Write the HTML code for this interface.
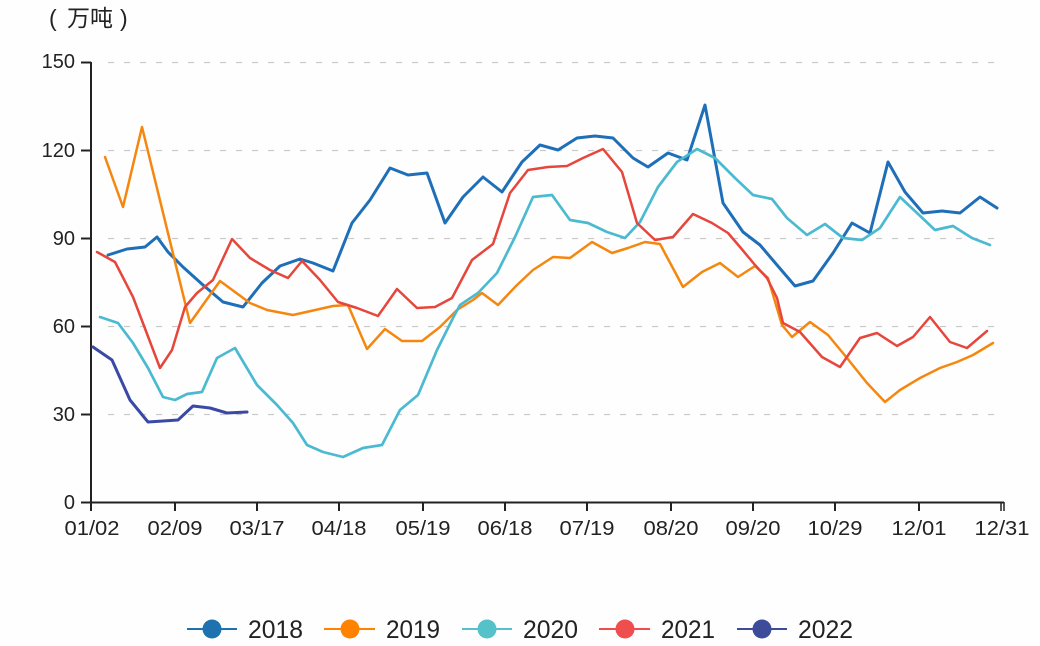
<!DOCTYPE html>
<html><head><meta charset="utf-8"><style>
html,body{margin:0;padding:0;background:#fefefe;}
svg{display:block;}
text{font-family:"Liberation Sans","Noto Sans CJK SC",sans-serif;fill:#222;}
</style></head><body>
<svg width="1040" height="646" viewBox="0 0 1040 646" xmlns="http://www.w3.org/2000/svg">
<rect width="1040" height="646" fill="#fefefe"/>
<text x="49" y="26" font-size="23">(</text>
<text x="67" y="26" font-size="23" font-family="'Noto Sans CJK SC',sans-serif">万吨</text>
<text x="120" y="26" font-size="23">)</text>
<g stroke="#c9c9c9" stroke-width="1.3" stroke-dasharray="6 10">
<line x1="108" y1="62.5" x2="998" y2="62.5"/>
<line x1="108" y1="150.5" x2="998" y2="150.5"/>
<line x1="108" y1="238.5" x2="998" y2="238.5"/>
<line x1="108" y1="326.5" x2="998" y2="326.5"/>
<line x1="108" y1="414.5" x2="998" y2="414.5"/>
</g>
<g stroke="#222" stroke-width="2" fill="none">
<line x1="91" y1="62" x2="91" y2="503"/>
<line x1="90" y1="502.5" x2="1004" y2="502.5"/>
<line x1="81" y1="62.5" x2="91" y2="62.5"/>
<line x1="81" y1="150.5" x2="91" y2="150.5"/>
<line x1="81" y1="238.5" x2="91" y2="238.5"/>
<line x1="81" y1="326.5" x2="91" y2="326.5"/>
<line x1="81" y1="414.5" x2="91" y2="414.5"/>
<line x1="81" y1="502.5" x2="91" y2="502.5"/>
<line x1="91" y1="502" x2="91" y2="511"/>
<line x1="175" y1="502" x2="175" y2="511"/>
<line x1="257" y1="502" x2="257" y2="511"/>
<line x1="339" y1="502" x2="339" y2="511"/>
<line x1="423" y1="502" x2="423" y2="511"/>
<line x1="505" y1="502" x2="505" y2="511"/>
<line x1="587" y1="502" x2="587" y2="511"/>
<line x1="671" y1="502" x2="671" y2="511"/>
<line x1="753" y1="502" x2="753" y2="511"/>
<line x1="835" y1="502" x2="835" y2="511"/>
<line x1="919" y1="502" x2="919" y2="511"/>
<line x1="1001" y1="502" x2="1001" y2="511" stroke-width="1.5"/>
<line x1="1004" y1="502" x2="1004" y2="511" stroke-width="1.5"/>
</g>
<g font-size="20" text-anchor="end">
<text x="75" y="68">150</text>
<text x="75" y="157">120</text>
<text x="75" y="245">90</text>
<text x="75" y="333">60</text>
<text x="75" y="421">30</text>
<text x="75" y="509">0</text>
</g>
<g font-size="20" text-anchor="middle">
<text x="92" y="535" textLength="55" lengthAdjust="spacingAndGlyphs">01/02</text>
<text x="175" y="535" textLength="55" lengthAdjust="spacingAndGlyphs">02/09</text>
<text x="257" y="535" textLength="55" lengthAdjust="spacingAndGlyphs">03/17</text>
<text x="339" y="535" textLength="55" lengthAdjust="spacingAndGlyphs">04/18</text>
<text x="423" y="535" textLength="55" lengthAdjust="spacingAndGlyphs">05/19</text>
<text x="505" y="535" textLength="55" lengthAdjust="spacingAndGlyphs">06/18</text>
<text x="587" y="535" textLength="55" lengthAdjust="spacingAndGlyphs">07/19</text>
<text x="671" y="535" textLength="55" lengthAdjust="spacingAndGlyphs">08/20</text>
<text x="753" y="535" textLength="55" lengthAdjust="spacingAndGlyphs">09/20</text>
<text x="835" y="535" textLength="55" lengthAdjust="spacingAndGlyphs">10/29</text>
<text x="919" y="535" textLength="55" lengthAdjust="spacingAndGlyphs">12/01</text>
<text x="1002" y="535" textLength="55" lengthAdjust="spacingAndGlyphs">12/31</text>
</g>
<g fill="none" stroke-linejoin="round" stroke-linecap="round">
<polyline stroke="#1e6fb8" stroke-width="3" points="108,255 127,249 145,247 157,237 168,252 183,267 203,285 223,302 243,307 262,283 280,266 300,259 313,263 333,271 352,223 370,200 390,168 408,175 427,173 445,223 463,197 483,177 502,192 522,162 540,145 558,150 577,138 595,136 613,138 633,158 648,167 668,153 687,160 705,105 723,203 743,232 760,245 777,265 795,286 813,281 833,253 852,223 870,233 888,162 905,192 923,213 942,211 960,213 980,197 997,208"/>
<polyline stroke="#f5870f" stroke-width="2.5" points="105,157 123,207 142,127 190,323 220,281 250,303 267,310 293,315 333,306 348,305 367,349 385,329 402,341 422,341 440,327 457,310 473,300 482,293 498,305 517,285 533,270 553,257 570,258 592,242 612,253 628,248 645,242 660,244 683,287 702,272 720,263 738,277 755,266 768,278 782,325 792,337 810,322 828,335 847,358 867,383 885,402 900,390 920,378 940,368 957,362 973,355 993,343"/>
<polyline stroke="#4bbad1" stroke-width="2.7" points="100,317 118,323 133,343 148,368 163,397 175,400 187,394 202,392 217,358 235,348 257,385 277,405 293,423 307,445 323,452 343,457 363,448 382,445 400,410 418,395 437,350 453,318 460,305 478,293 497,273 515,237 533,197 552,195 570,220 588,223 607,232 625,238 640,222 658,187 677,162 697,149 715,158 735,178 753,195 772,199 787,218 807,235 825,224 843,238 862,240 880,228 900,197 917,213 935,230 953,226 972,238 990,245"/>
<polyline stroke="#e6463b" stroke-width="2.5" points="97,252 115,262 133,297 160,368 172,350 185,307 197,293 213,280 232,239 250,258 270,270 288,278 302,261 320,280 338,302 357,308 378,316 397,289 417,308 435,307 452,298 472,260 493,244 510,193 528,170 548,167 567,166 583,158 603,149 622,172 637,223 655,240 673,237 693,214 712,223 728,233 740,247 755,265 767,278 777,298 783,323 800,332 822,357 840,367 860,338 877,333 897,346 913,337 930,317 950,342 967,348 987,331"/>
<polyline stroke="#3a49a5" stroke-width="3" points="93,347 112,360 130,400 148,422 163,421 178,420 193,406 210,408 227,413 247,412"/>
</g>
<g stroke-width="2">
<line x1="187" y1="629" x2="237" y2="629" stroke="#1f72b0"/>
<circle cx="212" cy="629" r="9.5" fill="#1f72b0"/>
<line x1="324" y1="629" x2="375" y2="629" stroke="#ff8200"/>
<circle cx="350" cy="629" r="9.5" fill="#ff8200"/>
<line x1="462" y1="629" x2="512" y2="629" stroke="#55c1c9"/>
<circle cx="487" cy="629" r="9.5" fill="#55c1c9"/>
<line x1="599" y1="629" x2="650" y2="629" stroke="#f04e4e"/>
<circle cx="625" cy="629" r="9.5" fill="#f04e4e"/>
<line x1="737" y1="629" x2="787" y2="629" stroke="#3c4c9b"/>
<circle cx="762" cy="629" r="9.5" fill="#3c4c9b"/>
</g>
<g font-size="25">
<text x="248" y="638" textLength="55" lengthAdjust="spacingAndGlyphs">2018</text>
<text x="386" y="638" textLength="54" lengthAdjust="spacingAndGlyphs">2019</text>
<text x="523" y="638" textLength="55" lengthAdjust="spacingAndGlyphs">2020</text>
<text x="661" y="638" textLength="54" lengthAdjust="spacingAndGlyphs">2021</text>
<text x="798" y="638" textLength="55" lengthAdjust="spacingAndGlyphs">2022</text>
</g>
</svg>
</body></html>
